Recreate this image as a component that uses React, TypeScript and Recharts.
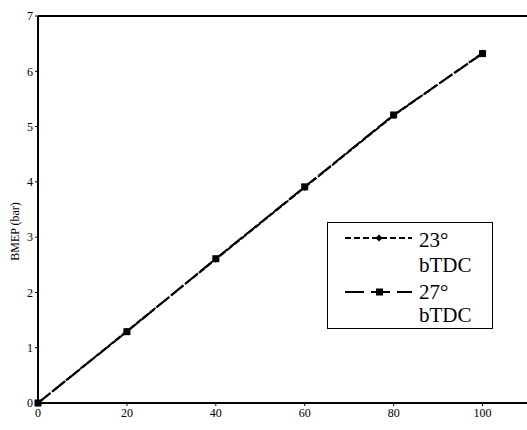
import { LineChart, Line, XAxis, YAxis, ReferenceLine } from 'recharts';

const speeds = [0, 20, 40, 60, 80, 100];
const bmep23 = [0, 1.3, 2.6, 3.9, 5.2, 6.33];
const bmep27 = [0, 1.29, 2.61, 3.91, 5.21, 6.32];
const xTicks = [0, 20, 40, 60, 80, 100];
const yTicks = [0, 1, 2, 3, 4, 5, 6, 7];

const data = speeds.map((s, i) => ({ speed: s, a: bmep23[i], b: bmep27[i] }));

const font = "'Liberation Serif', 'Times New Roman', Times, serif";

function Diamond(props: any) {
  const { cx, cy } = props;
  if (cx == null || cy == null) return null;
  return <path d={`M${cx},${cy - 3.5} L${cx + 3.5},${cy} L${cx},${cy + 3.5} L${cx - 3.5},${cy} Z`} fill="#000" />;
}

function Square(props: any) {
  const { cx, cy } = props;
  if (cx == null || cy == null) return null;
  return <rect x={cx - 3.5} y={cy - 3.5} width={7} height={7} fill="#000" />;
}

function YLabel(props: any) {
  const { viewBox } = props;
  const x = viewBox.x + viewBox.width - 23;
  const y = viewBox.y + viewBox.height / 2 + 22;
  return (
    <text x={x} y={y} transform={`rotate(-90 ${x} ${y})`} textAnchor="middle" dominantBaseline="central" style={{ fontFamily: font, fontSize: 12 }} fill="#000">
      BMEP (bar)
    </text>
  );
}

function LegendBox() {
  const t = { fontFamily: font, fontSize: 21, fill: '#000' };
  return (
    <div style={{ position: 'absolute', left: 327, top: 222, width: 166, height: 107, background: '#fff' }}>
      <svg width={166} height={107} style={{ display: 'block' }}>
        <rect x={0.5} y={0.5} width={165} height={106} fill="#fff" stroke="#000" strokeWidth={1} />
        <line x1={18} y1={16} x2={85} y2={16} stroke="#000" strokeWidth={2} strokeDasharray="6 3" />
        <path d="M52,12.5 L55.5,16 L52,19.5 L48.5,16 Z" fill="#000" />
        <text x={92} y={25} style={t}>23°</text>
        <text x={92} y={50} style={t}>bTDC</text>
        <line x1={18} y1={70} x2={85} y2={70} stroke="#000" strokeWidth={2} strokeDasharray="19 7" />
        <rect x={49} y={66.5} width={7} height={7} fill="#000" />
        <text x={92} y={77} style={t}>27°</text>
        <text x={92} y={100} style={t}>bTDC</text>
      </svg>
    </div>
  );
}

export default function App() {
  return (
    <div style={{ position: 'absolute', left: 0, top: 0, width: 527, height: 430, background: '#fff', fontFamily: font }}>
      <LineChart width={527} height={430} data={data} margin={{ top: 16, right: 0, left: 0, bottom: 0 }} style={{ fontFamily: font }}>
        <XAxis
          dataKey="speed"
          type="number"
          domain={[0, 110]}
          ticks={xTicks}
          height={27}
          axisLine={{ stroke: '#000', strokeWidth: 2 }}
          tickLine={{ stroke: '#000' }}
          tickSize={3}
          tick={{ fill: '#000', fontSize: 12, style: { fontFamily: font, fill: '#000' } }}
        />
        <YAxis
          type="number"
          domain={[0, 7]}
          ticks={yTicks}
          width={38}
          axisLine={{ stroke: '#000', strokeWidth: 2 }}
          tickLine={{ stroke: '#000' }}
          tickSize={3}
          tick={{ fill: '#000', fontSize: 12, style: { fontFamily: font, fill: '#000' } }}
          label={<YLabel />}
        />
        <ReferenceLine y={7} stroke="#000" strokeWidth={2} />
        <Line
          dataKey="a"
          name="23° bTDC"
          stroke="#000"
          strokeWidth={2}
          strokeDasharray="7 2"
          dot={<Diamond />}
          isAnimationActive={false}
        />
        <Line
          dataKey="b"
          name="27° bTDC"
          stroke="#000"
          strokeWidth={2}
          strokeDasharray="16 3"
          dot={<Square />}
          isAnimationActive={false}
        />
      </LineChart>
      <LegendBox />
    </div>
  );
}
